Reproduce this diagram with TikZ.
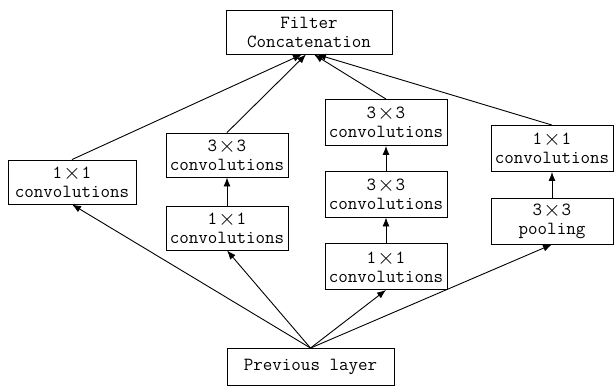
\documentclass[tikz,border=0pt]{standalone}
\usepackage{fontspec}
\usetikzlibrary{arrows.meta}
\newcommand{\tms}{\hspace{1pt}\raisebox{-1pt}{\scalebox{1.3}{$\times$}}\hspace{1pt}}
\tikzset{
  blk/.style={draw, line width=0.9pt, font=\ttfamily\fontsize{18.5}{19}\selectfont,
    align=center, inner sep=0pt, minimum width=122pt, minimum height=46pt},
  arr/.style={-{Latex[length=9pt,width=7pt]}, line width=0.9pt}
}
\begin{document}
\begin{tikzpicture}[x=1pt,y=-1pt]
\useasboundingbox (0,0) rectangle (614,386);
\node[blk, minimum width=166pt, minimum height=44pt] (concat) at (309,32) {Filter\\Concatenation};
\node[blk, minimum width=128pt, minimum height=44pt] (left) at (72,182) {1\tms1\\convolutions};
\node[blk, minimum height=44pt] (c2a) at (227,155) {3\tms3\\convolutions};
\node[blk, minimum height=44pt] (c2b) at (227,228) {1\tms1\\convolutions};
\node[blk] (c3a) at (386,122.5) {3\tms3\\convolutions};
\node[blk] (c3b) at (386,194) {3\tms3\\convolutions};
\node[blk] (c3c) at (386,266.5) {1\tms1\\convolutions};
\node[blk] (c4a) at (552,148.5) {1\tms1\\convolutions};
\node[blk] (c4b) at (552,221) {3\tms3\\pooling};
\node[blk, minimum width=167pt, minimum height=37pt] (prev) at (310.5,367) {Previous layer};
% inputs from the previous layer
\draw[arr] (prev.north) -- (left.south);
\draw[arr] (prev.north) -- (c2b.south);
\draw[arr] (prev.north) -- (c3c.south);
\draw[arr] (prev.north) -- (c4b.south);
% stacked branches
\draw[arr] (c2b) -- (c2a);
\draw[arr] (c3c) -- (c3b);
\draw[arr] (c3b) -- (c3a);
\draw[arr] (c4b) -- (c4a);
% outputs into the concatenation
\draw[arr] (left.north) -- ([xshift=-7pt]concat.south);
\draw[arr] (c2a.north) -- ([xshift=-3pt]concat.south);
\draw[arr] (c3a.north) -- ([xshift=5pt]concat.south);
\draw[arr] (c4a.north) -- ([xshift=8pt]concat.south);
\end{tikzpicture}
\end{document}
